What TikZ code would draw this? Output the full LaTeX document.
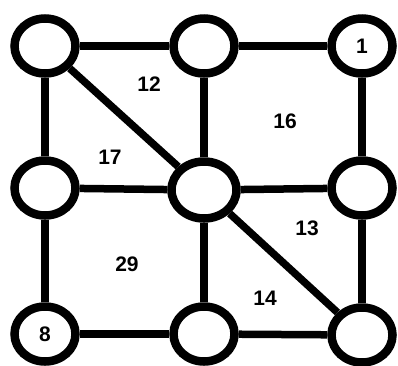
\documentclass[tikz,border=0pt]{standalone}
\usepackage{fontspec}
\setmainfont{Liberation Sans}
\usetikzlibrary{shapes.geometric}
\tikzset{
 vert/.style={draw=black,ellipse,line width=8.5pt,minimum width=61pt,minimum height=55pt,
   inner sep=0pt,fill=white,font=\fontsize{21}{21}\selectfont\bfseries},
 edge/.style={line width=7.5pt,draw=black},
 weight/.style={font=\fontsize{21}{21}\selectfont\bfseries,inner sep=0pt}
}
\begin{document}
\begin{tikzpicture}[x=1pt,y=-1pt]
 \useasboundingbox (0,0) rectangle (398,365);
 % vertices
 \node[vert] (tl) at (45,46) {};
 \node[vert] (tm) at (204,46) {};
 \node[vert] (tr) at (362,46) {1};
 \node[vert] (ml) at (45,188) {};
 \node[vert,minimum width=65pt,minimum height=57pt] (mm) at (204,190) {};
 \node[vert] (mr) at (362,188) {};
 \node[vert] (bl) at (45,334) {8};
 \node[vert] (bm) at (204,334) {};
 \node[vert] (br) at (362,335) {};
 % edges
 \draw[edge] (tl)--(tm);
 \draw[edge] (tm)--(tr);
 \draw[edge] (ml)--(mm);
 \draw[edge] (mm)--(mr);
 \draw[edge] (bl)--(bm);
 \draw[edge] (bm)--(br);
 \draw[edge] (tl)--(ml);
 \draw[edge] (ml)--(bl);
 \draw[edge] (tm)--(mm);
 \draw[edge] (mm)--(bm);
 \draw[edge] (tr)--(mr);
 \draw[edge] (mr)--(br);
 \draw[edge] (tl)--(mm);
 \draw[edge] (mm)--(br);
 % region weights
 \node[weight] (w12) at (149,84) {12};
 \node[weight] (w16) at (285,121) {16};
 \node[weight] (w17) at (110,157) {17};
 \node[weight] (w29) at (127,264) {29};
 \node[weight] (w13) at (307,228) {13};
 \node[weight] (w14) at (265,298) {14};
\end{tikzpicture}
\end{document}
